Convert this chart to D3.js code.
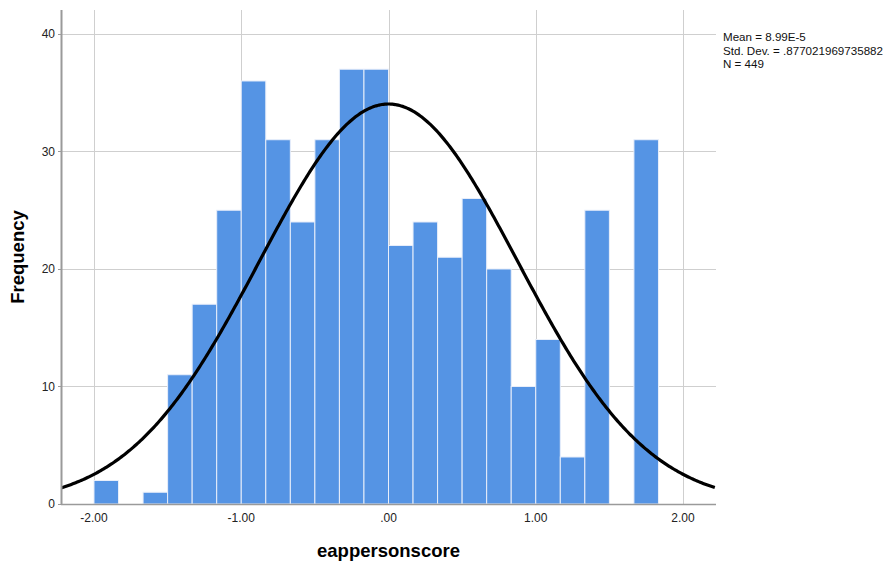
<!DOCTYPE html>
<meta charset="utf-8">
<style>
body { margin: 0; background: #fff; }
text { font-family: "Liberation Sans", Arial, sans-serif; }
.grid line { stroke: #cfcfcf; stroke-width: 1px; }
.bar { fill: #5594e4; stroke: #e8eefa; stroke-width: 1px; }
.curve { fill: none; stroke: #000; stroke-width: 3.2px; }
</style>
<svg width="895" height="561"></svg>
<script src="https://cdn.jsdelivr.net/npm/d3@7"></script>
<script>
// histogram bins (lower edges, width 1/6) and counts
var binStart = -2.0,
    binWidth = 1 / 6;
var counts = [2, 0, 1, 11, 17, 25, 36, 31, 24, 31, 37, 37, 22, 24, 21, 26, 20, 10, 14, 4, 25, 0, 31];
var xTicks = [-2, -1, 0, 1, 2];
var xTickLabels = ["-2.00", "-1.00", ".00", "1.00", "2.00"];
var yTicks = [0, 10, 20, 30, 40];
// stats shown in the chart
var mean = 8.99e-5,
    stdDev = 0.877021969735882,
    n = 449;
var statLines = ["Mean = 8.99E-5", "Std. Dev. = .877021969735882", "N = 449"];

var svg = d3.select("svg"),
    margin = {top: 10, right: 179, bottom: 57, left: 61},
    width = 895 - margin.left - margin.right,
    height = 561 - margin.top - margin.bottom,
    g = svg.append("g").attr("transform", "translate(" + margin.left + "," + margin.top + ")");

var x = d3.scaleLinear().domain([-2.224, 2.224]).range([0, width]),
    y = d3.scaleLinear().domain([0, 42.04]).range([height, 0]);

svg.append("defs").append("clipPath").attr("id", "clip")
  .append("rect").attr("width", width).attr("height", height);

// grid
var grid = g.append("g").attr("class", "grid");
grid.selectAll(".gy").data(yTicks.slice(1)).enter().append("line")
    .attr("x1", 0).attr("x2", width)
    .attr("y1", function(d) { return Math.round(y(d)) + 0.5; })
    .attr("y2", function(d) { return Math.round(y(d)) + 0.5; });
grid.selectAll(".gx").data(xTicks).enter().append("line")
    .attr("y1", 0).attr("y2", height)
    .attr("x1", function(d) { return Math.round(x(d)) + 0.5; })
    .attr("x2", function(d) { return Math.round(x(d)) + 0.5; });

// bars
g.selectAll(".bar")
  .data(counts.map(function(c, i) { return {x0: binStart + i * binWidth, count: c}; })
    .filter(function(d) { return d.count > 0; }))
  .enter().append("rect")
    .attr("class", "bar")
    .attr("x", function(d) { return x(d.x0); })
    .attr("width", function(d) { return x(d.x0 + binWidth) - x(d.x0); })
    .attr("y", function(d) { return y(d.count); })
    .attr("height", function(d) { return y(0) - y(d.count); });

// normal curve from the stated mean / sd / N
var xs = d3.range(-2.224, 2.2241, 0.01);
var line = d3.line()
    .x(function(d) { return x(d); })
    .y(function(d) {
      var z = (d - mean) / stdDev;
      return y(n * binWidth / (stdDev * Math.sqrt(2 * Math.PI)) * Math.exp(-0.5 * z * z));
    });
g.append("path")
    .attr("class", "curve")
    .attr("clip-path", "url(#clip)")
    .attr("d", line(xs));

// axes
g.append("line")
    .attr("x1", 0.5).attr("x2", 0.5).attr("y1", 0).attr("y2", height)
    .attr("stroke", "#9a9a9a").attr("stroke-width", 2);
g.append("line")
    .attr("x1", 0).attr("x2", width).attr("y1", height + 0.5).attr("y2", height + 0.5)
    .attr("stroke", "#9a9a9a").attr("stroke-width", 1.5);

g.selectAll(".yt").data(yTicks).enter().append("text")
    .attr("x", -6)
    .attr("y", function(d) { return y(d); })
    .attr("dy", "0.35em")
    .attr("text-anchor", "end")
    .style("font-size", "12px")
    .attr("fill", "#222")
    .text(function(d) { return d; });
g.selectAll(".ytk").data(yTicks).enter().append("line")
    .attr("x1", -3).attr("x2", 0)
    .attr("y1", function(d) { return Math.round(y(d)) + 0.5; })
    .attr("y2", function(d) { return Math.round(y(d)) + 0.5; })
    .attr("stroke", "#9a9a9a");

g.selectAll(".xt").data(xTicks).enter().append("text")
    .attr("x", function(d) { return x(d); })
    .attr("y", height + 18)
    .attr("text-anchor", "middle")
    .style("font-size", "12px")
    .attr("fill", "#222")
    .text(function(d, i) { return xTickLabels[i]; });

// axis titles
svg.append("text")
    .attr("x", margin.left + x(0))
    .attr("y", 557)
    .attr("text-anchor", "middle")
    .style("font-size", "18.5px")
    .style("font-weight", "bold")
    .text("eappersonscore");
svg.append("text")
    .attr("transform", "translate(24," + (margin.top + height / 2) + ") rotate(-90)")
    .attr("text-anchor", "middle")
    .style("font-size", "18.5px")
    .style("font-weight", "bold")
    .text("Frequency");

// stats box
svg.selectAll(".stat").data(statLines).enter().append("text")
    .attr("x", 723)
    .attr("y", function(d, i) { return 41 + i * 13.5; })
    .style("font-size", "11.6px")
    .attr("fill", "#111")
    .text(function(d) { return d; });
</script>
